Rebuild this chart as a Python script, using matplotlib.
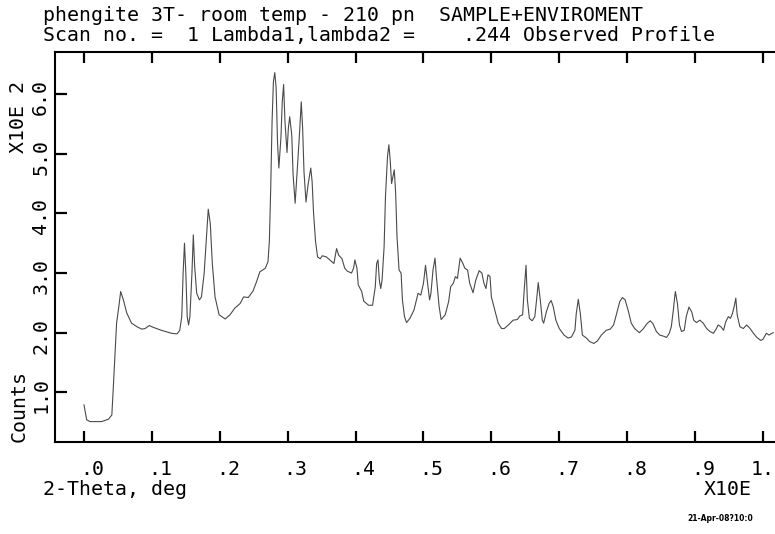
#!/usr/bin/env python3
"""Observed powder profile for the phengite 3T room temperature scan."""

import matplotlib

matplotlib.use("Agg")

import matplotlib.pyplot as plt
import matplotlib.transforms as mtransforms


# 2-theta in units of 10 deg, counts in units of 100
TWO_THETA = [
    0.000, 0.004, 0.009, 0.026, 0.036, 0.041, 0.043, 0.046, 0.048, 0.052,
    0.054, 0.058, 0.063, 0.070, 0.078, 0.085, 0.090, 0.096, 0.102, 0.114,
    0.129, 0.137, 0.141, 0.144, 0.146, 0.148, 0.150, 0.152, 0.154, 0.156,
    0.159, 0.161, 0.163, 0.166, 0.170, 0.173, 0.177, 0.180, 0.183, 0.186,
    0.189, 0.193, 0.199, 0.208, 0.215, 0.222, 0.230, 0.235, 0.242, 0.249,
    0.254, 0.259, 0.267, 0.271, 0.273, 0.275, 0.277, 0.279, 0.281, 0.283,
    0.285, 0.287, 0.290, 0.292, 0.294, 0.296, 0.299, 0.301, 0.303, 0.306,
    0.308, 0.311, 0.313, 0.317, 0.320, 0.322, 0.324, 0.327, 0.330, 0.334,
    0.336, 0.338, 0.341, 0.344, 0.348, 0.351, 0.357, 0.364, 0.368, 0.372,
    0.375, 0.380, 0.384, 0.388, 0.394, 0.397, 0.399, 0.402, 0.404, 0.409,
    0.412, 0.419, 0.425, 0.429, 0.431, 0.433, 0.435, 0.437, 0.439, 0.442,
    0.444, 0.447, 0.449, 0.451, 0.453, 0.456, 0.457, 0.459, 0.461, 0.464,
    0.467, 0.469, 0.472, 0.475, 0.480, 0.486, 0.492, 0.496, 0.500, 0.503,
    0.506, 0.509, 0.511, 0.514, 0.517, 0.519, 0.523, 0.526, 0.532, 0.537,
    0.540, 0.544, 0.547, 0.550, 0.554, 0.558, 0.561, 0.565, 0.568, 0.573,
    0.577, 0.582, 0.586, 0.589, 0.592, 0.595, 0.598, 0.600, 0.605, 0.610,
    0.615, 0.619, 0.625, 0.632, 0.638, 0.642, 0.646, 0.648, 0.651, 0.653,
    0.656, 0.660, 0.664, 0.667, 0.669, 0.672, 0.675, 0.677, 0.681, 0.685,
    0.688, 0.691, 0.695, 0.700, 0.707, 0.713, 0.718, 0.723, 0.725, 0.728,
    0.731, 0.734, 0.740, 0.745, 0.751, 0.756, 0.762, 0.769, 0.775, 0.780,
    0.784, 0.789, 0.793, 0.797, 0.802, 0.806, 0.811, 0.818, 0.824, 0.829,
    0.834, 0.838, 0.843, 0.848, 0.854, 0.858, 0.862, 0.865, 0.868, 0.870,
    0.871, 0.874, 0.877, 0.880, 0.884, 0.887, 0.891, 0.895, 0.898, 0.902,
    0.907, 0.912, 0.917, 0.922, 0.927, 0.931, 0.934, 0.938, 0.942, 0.945,
    0.949, 0.952, 0.955, 0.958, 0.960, 0.962, 0.966, 0.971, 0.976, 0.981,
    0.986, 0.991, 0.997, 1.000, 1.005, 1.009, 1.013, 1.015,
]
COUNTS = [
    0.79, 0.54, 0.51, 0.51, 0.55, 0.62, 1.04, 1.71, 2.16, 2.50,
    2.69, 2.55, 2.33, 2.16, 2.10, 2.06, 2.07, 2.12, 2.09, 2.04,
    1.99, 1.98, 2.04, 2.27, 3.00, 3.50, 3.00, 2.27, 2.13, 2.27,
    3.00, 3.64, 3.11, 2.66, 2.55, 2.60, 3.00, 3.55, 4.07, 3.83,
    3.16, 2.60, 2.30, 2.23, 2.30, 2.41, 2.49, 2.60, 2.59, 2.70,
    2.85, 3.02, 3.08, 3.19, 3.53, 4.42, 5.54, 6.21, 6.36, 6.10,
    5.20, 4.76, 5.26, 5.87, 6.16, 5.54, 5.02, 5.43, 5.62, 5.31,
    4.64, 4.17, 4.53, 5.26, 5.87, 5.43, 4.70, 4.19, 4.48, 4.76,
    4.53, 4.03, 3.53, 3.27, 3.24, 3.29, 3.27, 3.20, 3.16, 3.41,
    3.30, 3.24, 3.08, 3.03, 3.00, 3.08, 3.22, 3.08, 2.80, 2.69,
    2.53, 2.46, 2.46, 2.77, 3.16, 3.22, 2.88, 2.74, 2.88, 3.44,
    4.28, 4.95, 5.15, 4.89, 4.50, 4.67, 4.73, 4.34, 3.61, 3.05,
    3.00, 2.55, 2.27, 2.17, 2.24, 2.38, 2.66, 2.63, 2.83, 3.13,
    2.83, 2.55, 2.66, 3.05, 3.25, 2.94, 2.44, 2.22, 2.30, 2.52,
    2.77, 2.83, 2.94, 2.91, 3.25, 3.16, 3.08, 3.05, 2.83, 2.67,
    2.88, 3.04, 3.00, 2.83, 2.74, 2.97, 2.94, 2.60, 2.38, 2.16,
    2.07, 2.07, 2.13, 2.21, 2.22, 2.28, 2.30, 2.66, 3.13, 2.55,
    2.24, 2.20, 2.27, 2.60, 2.84, 2.55, 2.21, 2.16, 2.35, 2.49,
    2.54, 2.44, 2.21, 2.07, 1.96, 1.91, 1.93, 2.04, 2.32, 2.56,
    2.32, 1.96, 1.91, 1.85, 1.82, 1.86, 1.96, 2.04, 2.06, 2.13,
    2.30, 2.52, 2.59, 2.55, 2.35, 2.16, 2.07, 2.00, 2.07, 2.15,
    2.20, 2.15, 2.02, 1.96, 1.94, 1.92, 1.99, 2.10, 2.38, 2.60,
    2.69, 2.49, 2.13, 2.02, 2.04, 2.27, 2.43, 2.35, 2.21, 2.17,
    2.21, 2.16, 2.07, 2.02, 1.99, 2.06, 2.13, 2.10, 2.04, 2.18,
    2.27, 2.24, 2.32, 2.46, 2.58, 2.30, 2.10, 2.07, 2.13, 2.07,
    1.99, 1.92, 1.87, 1.89, 1.99, 1.96, 1.99, 2.00,
]

X_TICKS = [0.0, 0.1, 0.2, 0.3, 0.4, 0.5, 0.6, 0.7, 0.8, 0.9, 1.0]
X_TICK_LABELS = [".0", ".1", ".2", ".3", ".4", ".5", ".6", ".7", ".8", ".9", "1."]
Y_TICKS = [1.0, 2.0, 3.0, 4.0, 5.0, 6.0]
Y_TICK_LABELS = ["1.0", "2.0", "3.0", "4.0", "5.0", "6.0"]

TITLE_LINES = [
    "phengite 3T- room temp - 210 pn  SAMPLE+ENVIROMENT",
    "Scan no. =  1 Lambda1,lambda2 =    .244 Observed Profile",
]
STAMP = "21-Apr-08?10:0"

W, H = 775, 534
MONO = {"family": "DejaVu Sans Mono", "size": 14.3, "weight": "normal"}


def fx(px):
    return px / W


def fy(py):
    return 1 - py / H


def main():
    fig = plt.figure(figsize=(W / 100, H / 100), dpi=100)
    ax = fig.add_axes([fx(55), fy(442), fx(790) - fx(55), fy(52) - fy(442)])

    ax.plot(TWO_THETA, COUNTS, color="#4a4a4a", linewidth=0.8)

    ax.set_xlim(-0.0427, 1.0398)
    ax.set_ylim(0.168, 6.705)

    for side in ("left", "bottom", "top", "right"):
        ax.spines[side].set_linewidth(1.5)

    ax.set_xticks(X_TICKS)
    ax.set_xticklabels(X_TICK_LABELS, fontdict=MONO)
    ax.set_yticks(Y_TICKS)
    ax.set_yticklabels(Y_TICK_LABELS, fontdict=MONO, rotation=90, va="center")
    ax.tick_params(axis="x", direction="in", top=True, length=8, width=1.6, pad=13)
    ax.tick_params(axis="y", direction="in", length=8.5, width=1.6, pad=3.5)

    # plotter labels sit a little right of their ticks; the last one is at the edge
    shift_x = mtransforms.ScaledTranslation(8 / 100, 0, fig.dpi_scale_trans)
    for lab in ax.get_xticklabels()[:-1]:
        lab.set_transform(lab.get_transform() + shift_x)
    shift_y = mtransforms.ScaledTranslation(0, -3 / 100, fig.dpi_scale_trans)
    for lab in ax.get_yticklabels():
        lab.set_transform(lab.get_transform() + shift_y)

    fig.text(fx(43), fy(21), TITLE_LINES[0], fontdict=MONO, va="baseline")
    fig.text(fx(43), fy(41), TITLE_LINES[1], fontdict=MONO, va="baseline")

    fig.text(fx(43), fy(495), "2-Theta, deg", fontdict=MONO, va="baseline")
    fig.text(fx(752), fy(495), "X10E", fontdict=MONO, va="baseline", ha="right")
    fig.text(fx(19), fy(153), "X10E 2", fontdict=MONO, rotation=90,
             ha="center", va="bottom")
    fig.text(fx(19), fy(442), "Counts", fontdict=MONO, rotation=90,
             ha="center", va="bottom")

    fig.text(fx(687), fy(521), STAMP, family="DejaVu Sans", size=5.5,
             weight="bold", va="baseline")

    fig.savefig("out.png", dpi=100)
    plt.close(fig)


if __name__ == "__main__":
    main()
